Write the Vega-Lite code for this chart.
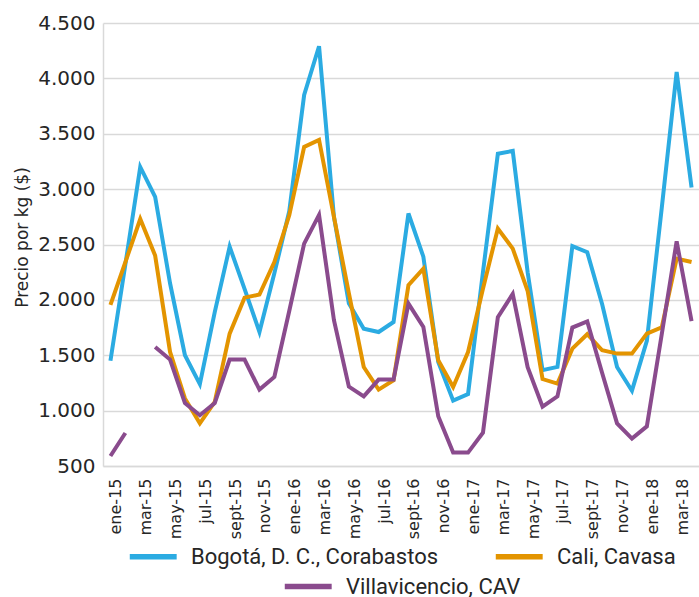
{
  "$schema": "https://vega.github.io/schema/vega-lite/v6.json",
  "width": 596,
  "height": 443,
  "autosize": {"type": "none"},
  "padding": {"left": 103, "top": 23, "right": 0, "bottom": 131},
  "background": "white",
  "config": {
    "view": {"stroke": null},
    "font": "DejaVu Sans",
    "legend": {
      "layout": {"bottom": {"direction": "vertical", "anchor": "middle", "center": true, "margin": 4}}
    }
  },
  "datasets": {
    "precios": [
      {"mes": "ene-15", "Bogota": 1450, "Cali": 1955, "Villa": 590},
      {"mes": "feb-15", "Bogota": 2320, "Cali": 2340, "Villa": 798},
      {"mes": "mar-15", "Bogota": 3200, "Cali": 2730, "Villa": null},
      {"mes": "abr-15", "Bogota": 2930, "Cali": 2400, "Villa": 1575},
      {"mes": "may-15", "Bogota": 2150, "Cali": 1530, "Villa": 1461},
      {"mes": "jun-15", "Bogota": 1500, "Cali": 1110, "Villa": 1069},
      {"mes": "jul-15", "Bogota": 1240, "Cali": 885, "Villa": 958},
      {"mes": "ago-15", "Bogota": 1890, "Cali": 1078, "Villa": 1069},
      {"mes": "sept-15", "Bogota": 2480, "Cali": 1695, "Villa": 1461},
      {"mes": "oct-15", "Bogota": 2100, "Cali": 2020, "Villa": 1461},
      {"mes": "nov-15", "Bogota": 1710, "Cali": 2048, "Villa": 1190},
      {"mes": "dic-15", "Bogota": 2240, "Cali": 2342, "Villa": 1304},
      {"mes": "ene-16", "Bogota": 2800, "Cali": 2764, "Villa": 1900},
      {"mes": "feb-16", "Bogota": 3850, "Cali": 3381, "Villa": 2508},
      {"mes": "mar-16", "Bogota": 4290, "Cali": 3445, "Villa": 2767},
      {"mes": "abr-16", "Bogota": 2750, "Cali": 2750, "Villa": 1816},
      {"mes": "may-16", "Bogota": 1970, "Cali": 2060, "Villa": 1217},
      {"mes": "jun-16", "Bogota": 1740, "Cali": 1394, "Villa": 1129},
      {"mes": "jul-16", "Bogota": 1710, "Cali": 1190, "Villa": 1280},
      {"mes": "ago-16", "Bogota": 1800, "Cali": 1274, "Villa": 1280},
      {"mes": "sept-16", "Bogota": 2780, "Cali": 2132, "Villa": 1966},
      {"mes": "oct-16", "Bogota": 2390, "Cali": 2282, "Villa": 1755},
      {"mes": "nov-16", "Bogota": 1440, "Cali": 1454, "Villa": 949},
      {"mes": "dic-16", "Bogota": 1090, "Cali": 1213, "Villa": 621},
      {"mes": "ene-17", "Bogota": 1150, "Cali": 1529, "Villa": 621},
      {"mes": "feb-17", "Bogota": 2250, "Cali": 2100, "Villa": 800},
      {"mes": "mar-17", "Bogota": 3320, "Cali": 2644, "Villa": 1843},
      {"mes": "abr-17", "Bogota": 3345, "Cali": 2463, "Villa": 2054},
      {"mes": "may-17", "Bogota": 2250, "Cali": 2080, "Villa": 1392},
      {"mes": "jun-17", "Bogota": 1365, "Cali": 1285, "Villa": 1036},
      {"mes": "jul-17", "Bogota": 1395, "Cali": 1244, "Villa": 1129},
      {"mes": "ago-17", "Bogota": 2485, "Cali": 1560, "Villa": 1750},
      {"mes": "sept-17", "Bogota": 2430, "Cali": 1690, "Villa": 1805},
      {"mes": "oct-17", "Bogota": 1960, "Cali": 1545, "Villa": 1340},
      {"mes": "nov-17", "Bogota": 1394, "Cali": 1515, "Villa": 885},
      {"mes": "dic-17", "Bogota": 1180, "Cali": 1515, "Villa": 747},
      {"mes": "ene-18", "Bogota": 1630, "Cali": 1695, "Villa": 858},
      {"mes": "feb-18", "Bogota": 2830, "Cali": 1752, "Villa": 1690},
      {"mes": "mar-18", "Bogota": 4058, "Cali": 2373, "Villa": 2528},
      {"mes": "abr-18", "Bogota": 3014, "Cali": 2342, "Villa": 1809}
    ]
  },
  "data": {"name": "precios"},
  "transform": [
    {"fold": ["Bogota", "Cali", "Villa"], "as": ["clave", "precio"]},
    {"lookup": "clave", "from": {"data": {"values": [
      {"clave": "Bogota", "serie": "Bogotá, D. C., Corabastos"},
      {"clave": "Cali", "serie": "Cali, Cavasa"},
      {"clave": "Villa", "serie": "Villavicencio, CAV"}
    ]}, "key": "clave", "fields": ["serie"]}}
  ],
  "encoding": {
    "x": {
      "field": "mes", "type": "ordinal", "sort": null,
      "scale": {"type": "band", "paddingInner": 0, "paddingOuter": 0},
      "axis": {
        "title": null,
        "values": ["ene-15","mar-15","may-15","jul-15","sept-15","nov-15","ene-16","mar-16","may-16","jul-16","sept-16","nov-16","ene-17","mar-17","may-17","jul-17","sept-17","nov-17","ene-18","mar-18"],
        "labelAngle": -90, "labelFontSize": 16, "labelColor": "#262626", "labelPadding": 12, "labelOffset": 6,
        "ticks": false, "domainColor": "#D9D9D9", "domainWidth": 1.5, "grid": false
      }
    },
    "y": {
      "field": "precio", "type": "quantitative",
      "scale": {"domain": [500, 4500], "nice": false, "zero": false},
      "axis": {
        "title": "Precio por kg ($)", "titleFontSize": 17, "titleFontWeight": "normal", "titleColor": "#262626",
        "titleX": -81, "titleY": 214, "titleBaseline": "middle", "titleAngle": -90,
        "values": [500,1000,1500,2000,2500,3000,3500,4000,4500],
        "labelExpr": "replace(format(datum.value, ','), ',', '.')",
        "labelFontSize": 20, "labelColor": "#262626", "labelPadding": 8,
        "ticks": false, "domainColor": "#D9D9D9", "domainWidth": 1.5,
        "grid": true, "gridColor": "#D9D9D9", "gridWidth": 1.5
      }
    }
  },
  "layer": [
    {
      "transform": [{"filter": "datum.clave !== 'Villa'"}],
      "mark": {"type": "line", "strokeWidth": 4, "strokeJoin": "miter", "invalid": "break-paths-show-domains"},
      "encoding": {
        "color": {
          "field": "serie", "type": "nominal",
          "scale": {"domain": ["Bogotá, D. C., Corabastos", "Cali, Cavasa"], "range": ["#2BABE2", "#E39400"]},
          "legend": {
            "title": null, "orient": "bottom", "direction": "horizontal",
            "symbolType": "M-1,0H3", "symbolSize": 550, "symbolStrokeWidth": 5.5,
            "labelFontSize": 22, "labelFont": "Roboto", "labelColor": "#262626",
            "labelOffset": 35, "columnPadding": 45, "offset": 3, "labelLimit": 400
          }
        }
      }
    },
    {
      "transform": [{"filter": "datum.clave === 'Villa'"}],
      "mark": {"type": "line", "strokeWidth": 4, "strokeJoin": "miter", "invalid": "break-paths-show-domains"},
      "encoding": {
        "color": {
          "field": "serie", "type": "nominal",
          "scale": {"domain": ["Villavicencio, CAV"], "range": ["#8A4B8D"]},
          "legend": {
            "title": null, "orient": "bottom", "direction": "horizontal",
            "symbolType": "M-1,0H3", "symbolSize": 550, "symbolStrokeWidth": 5.5,
            "labelFontSize": 22, "labelFont": "Roboto", "labelColor": "#262626",
            "labelOffset": 35, "offset": 3, "labelLimit": 400
          }
        }
      }
    }
  ],
  "resolve": {"scale": {"color": "independent"}}
}
